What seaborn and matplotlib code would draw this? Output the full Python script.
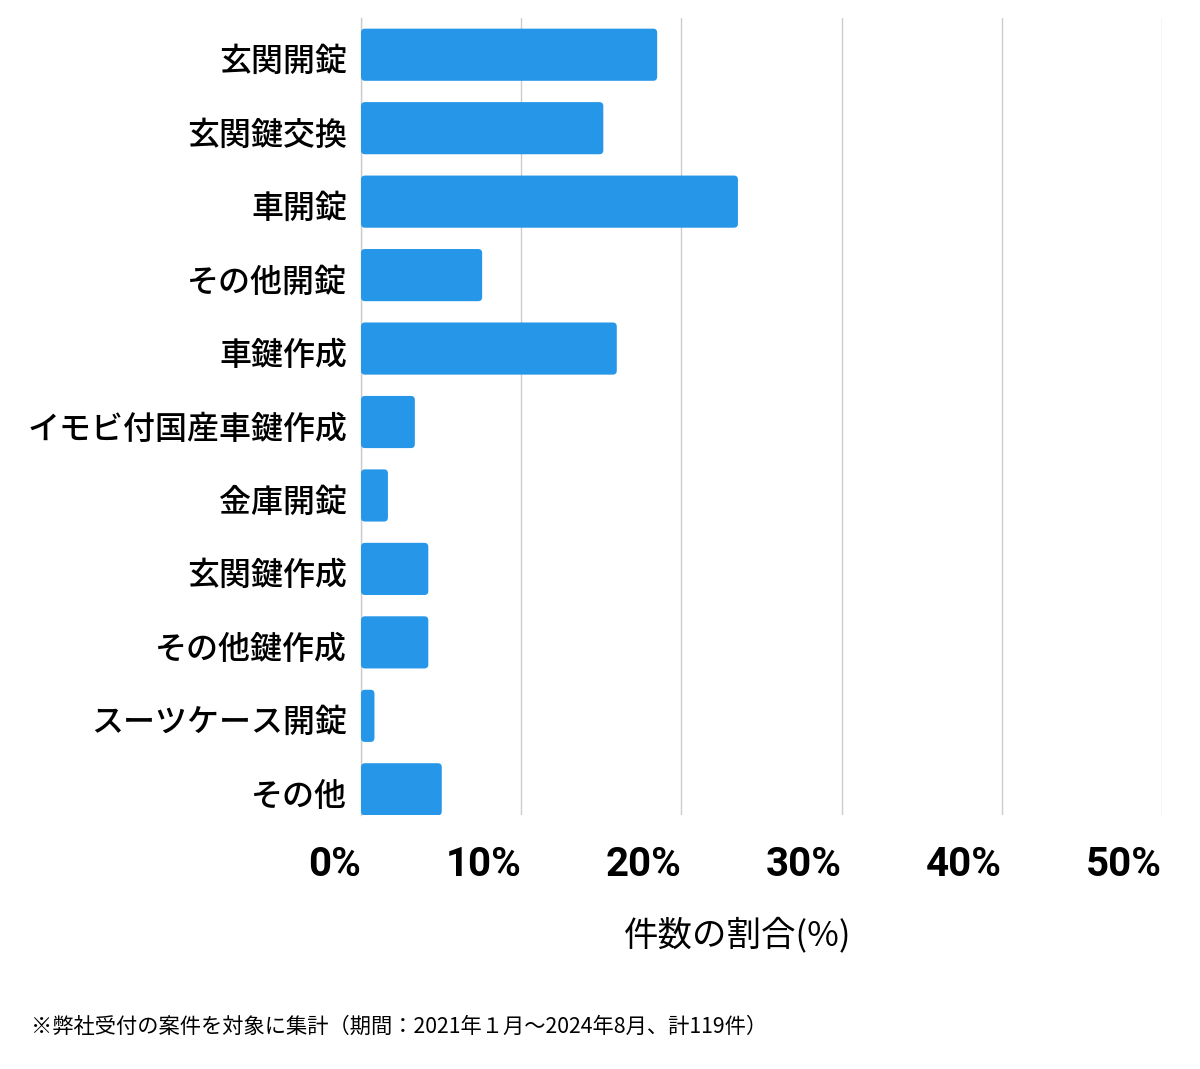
import matplotlib
matplotlib.use("Agg")
import matplotlib.pyplot as plt
from matplotlib.patches import FancyBboxPatch
import matplotlib.transforms as mtransforms
import seaborn as sns
import pandas as pd

categories = ["玄関開錠", "玄関鍵交換", "車開錠", "その他開錠", "車鍵作成",
              "イモビ付国産車鍵作成", "金庫開錠", "玄関鍵作成", "その他鍵作成",
              "スーツケース開錠", "その他"]
counts = [22, 18, 28, 9, 19, 4, 2, 5, 5, 1, 6]
total = 119
percent = [c / total * 100 for c in counts]
xticks = [0, 10, 20, 30, 40, 50]
xticklabels = ["0%", "10%", "20%", "30%", "40%", "50%"]

sns.set_theme(style="white")
plt.rcParams['font.family'] = ['Noto Sans CJK JP', 'DejaVu Sans']
plt.rcParams['text.color'] = 'black'
plt.rcParams['xtick.color'] = 'black'
plt.rcParams['ytick.color'] = 'black'

df = pd.DataFrame({"cat": categories, "pct": percent})

fig = plt.figure(figsize=(12, 10.69), dpi=100)
ax = fig.add_axes([361/1200, 1 - 815/1069, (1162-361)/1200, (815-18)/1069])

sns.barplot(data=df, x="pct", y="cat", orient="h", color="#2696E8",
            width=0.71, ax=ax, zorder=3, saturation=1)

ax.set_xlim(0, 50)
ax.set_ylim(10.35, -0.5)

# rounded corners
xpp = 50 / 801
ypp = 10.85 / 797
for p in list(ax.patches):
    x, y = p.get_x(), p.get_y()
    w, h = p.get_width(), p.get_height()
    fb = FancyBboxPatch((x, y), w, h, boxstyle="round,pad=0,rounding_size=%f" % (4 * xpp),
                        mutation_aspect=ypp / xpp, facecolor=p.get_facecolor(),
                        edgecolor="none", zorder=3)
    p.remove()
    ax.add_patch(fb)

ax.set_xticks(xticks)
ax.set_xticklabels(xticklabels)
for lbl in ax.get_xticklabels():
    lbl.set_horizontalalignment("right")
    lbl.set_family(['Roboto', 'DejaVu Sans'])
    lbl.set_fontweight("bold")
    lbl.set_fontsize(29)
    lbl.set_color("black")
ax.tick_params(axis="x", length=0, pad=22)
ax.tick_params(axis="y", length=0, pad=10)
offset = mtransforms.ScaledTranslation(0, -4/100, fig.dpi_scale_trans)
for lbl in ax.get_yticklabels():
    lbl.set_fontweight("medium")
    lbl.set_fontsize(23)
    lbl.set_color("black")
    lbl.set_transform(lbl.get_transform() + offset)

ax.grid(axis="x", color="#cccccc", linewidth=1, zorder=0)
ax.set_axisbelow(True)
for s in ["top", "right", "bottom"]:
    ax.spines[s].set_visible(False)
ax.spines["left"].set_color("#cccccc")
ax.spines["left"].set_linewidth(1)

ax.set_ylabel("")
ax.set_xlabel("")
fig.text(738/1200, 1 - 935/1069, "件数の割合(%)", fontsize=24.8, ha="center", va="center",
         color="black")
fig.text(31/1200, 1 - 1027/1069, "※弊社受付の案件を対象に集計（期間：2021年１月〜2024年8月、計119件）",
         fontsize=15.3, ha="left", va="center", color="black")

fig.savefig("out.png", dpi=100, facecolor="white")
